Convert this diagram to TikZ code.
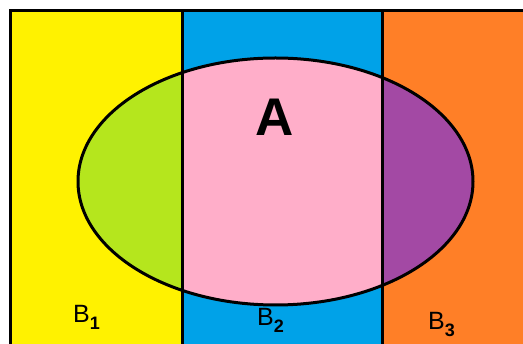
\documentclass[tikz,border=0pt]{standalone}
\usepackage{fontspec}
\setmainfont{Liberation Sans}
\definecolor{cyel}{HTML}{FFF200}
\definecolor{cblu}{HTML}{00A2E8}
\definecolor{cora}{HTML}{FF7F27}
\definecolor{cgrn}{HTML}{B5E61D}
\definecolor{cpnk}{HTML}{FFAEC9}
\definecolor{cpur}{HTML}{A349A4}
\newcommand{\subb}[1]{\raisebox{-7pt}{\fontsize{18}{18}\selectfont\bfseries #1}}
\begin{document}
\begin{tikzpicture}[x=1pt,y=-1pt,
  edge/.style={draw=black,line width=3pt},
  lbl/.style={inner sep=0pt,anchor=base west,font=\fontsize{25}{25}\selectfont}]
\useasboundingbox (0,0) rectangle (523,344);
\clip (0,0) rectangle (523,344);
\fill[white] (0,0) rectangle (523,344);
\fill[cyel] (10.5,10.5) rectangle (182,360);
\fill[cblu] (182,10.5) rectangle (382,360);
\fill[cora] (382,10.5) rectangle (540,360);
\fill[cpnk] (275.5,181.5) ellipse [x radius=197.5, y radius=123.5];
\begin{scope}
  \clip (0,0) rectangle (182,344);
  \fill[cgrn] (275.5,181.5) ellipse [x radius=197.5, y radius=123.5];
\end{scope}
\begin{scope}
  \clip (382,0) rectangle (523,344);
  \fill[cpur] (275.5,181.5) ellipse [x radius=197.5, y radius=123.5];
\end{scope}
\draw[edge] (540,10.5) -- (10.5,10.5) -- (10.5,360);
\draw[edge] (182,10.5) -- (182,360);
\draw[edge] (382,10.5) -- (382,360);
\draw[edge] (275.5,181.5) ellipse [x radius=197.5, y radius=123.5];
\node[inner sep=0pt,font=\fontsize{53}{53}\selectfont\bfseries] (A) at (275,117) {A};
\node[lbl] (B1) at (73,323) {B\subb{1}};
\node[lbl] (B2) at (257,326) {B\subb{2}};
\node[lbl] (B3) at (428,330) {B\subb{3}};
\end{tikzpicture}
\end{document}
